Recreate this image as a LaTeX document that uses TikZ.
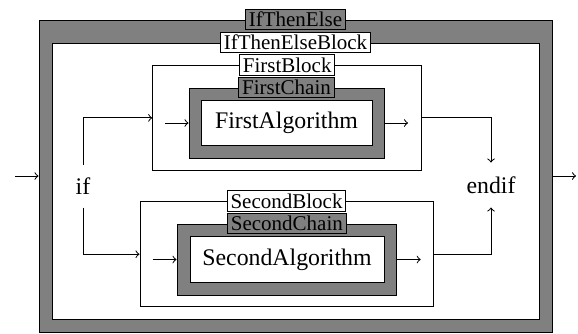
\documentclass[tikz,border=0pt]{standalone}
\usepackage{fontspec}
\setmainfont{Liberation Serif}
\begin{document}
\begin{tikzpicture}[x=0.5pt,y=-0.5pt,line width=0.5pt,>=to,
  frame/.style={draw=black,line width=0.5pt,inner sep=0pt,rectangle},
  grayframe/.style={frame,fill=gray},
  whiteframe/.style={frame,fill=white},
  lab/.style={draw=black,line width=0.5pt,font=\fontsize{10.5}{12}\selectfont,inner xsep=1.67pt,inner ysep=1.4pt,text height=7.3pt,text depth=0.2pt},
  graylab/.style={lab,fill=gray},
  whitelab/.style={lab,fill=white},
  maintext/.style={font=\fontsize{11.9}{14}\selectfont,inner sep=0pt},
  conn/.style={->,line width=0.5pt}]
\useasboundingbox (0,0) rectangle (578,333);
% outer IfThenElse
\node[grayframe,minimum width=256.5pt,minimum height=156pt] (ITE) at (295.5,176) {};
\node[graylab] (ITElab) at (ITE.north) {IfThenElse};
% IfThenElseBlock
\node[whiteframe,minimum width=243.5pt,minimum height=138pt] (ITEB) at (295.5,181) {};
\node[whitelab] (ITEBlab) at (ITEB.north) {IfThenElseBlock};
% First block
\node[whiteframe,minimum width=134.5pt,minimum height=52.15pt] (FB) at (287.2,117.85) {};
\node[whitelab] (FBlab) at (FB.north) {FirstBlock};
\node[grayframe,minimum width=97.5pt,minimum height=35pt] (FC) at (286.5,123) {};
\node[graylab] (FClab) at (FC.north) {FirstChain};
\node[whiteframe,maintext,minimum width=85.5pt,minimum height=22.5pt] (FA) at (286.5,123.2) {FirstAlgorithm};
% Second block
\node[whiteframe,minimum width=146.5pt,minimum height=52.5pt] (SB) at (286.5,254.2) {};
\node[whitelab] (SBlab) at (SB.north) {SecondBlock};
\node[grayframe,minimum width=109.85pt,minimum height=35.5pt] (SC) at (286.85,259.5) {};
\node[graylab] (SClab) at (SC.north) {SecondChain};
\node[whiteframe,maintext,minimum width=97pt,minimum height=22.65pt] (SA) at (287,259.35) {SecondAlgorithm};
% if / endif
\node[maintext,minimum height=21pt] (if) at (83,186) {if};
\node[maintext,minimum height=22pt] (endif) at (491,185) {endif};
% connectors
\coordinate (in) at (15,176);
\coordinate (out) at (576,176);
\draw[conn] (in) -- (ITE.west);
\draw[conn] (ITE.east) -- (out);
\draw[conn] (if.north) |- (FB.west);
\draw[conn] (if.south) |- (SB.west);
\draw[conn] (FB.east) -| (endif.north);
\draw[conn] (SB.east) -| (endif.south);
\coordinate (fin) at (165,123);
\coordinate (fout) at (408,123);
\draw[conn] (fin) -- (FC.west);
\draw[conn] (FC.east) -- (fout);
\coordinate (sin) at (152.7,259.5);
\coordinate (sout) at (420.7,259.5);
\draw[conn] (sin) -- (SC.west);
\draw[conn] (SC.east) -- (sout);
\end{tikzpicture}
\end{document}
